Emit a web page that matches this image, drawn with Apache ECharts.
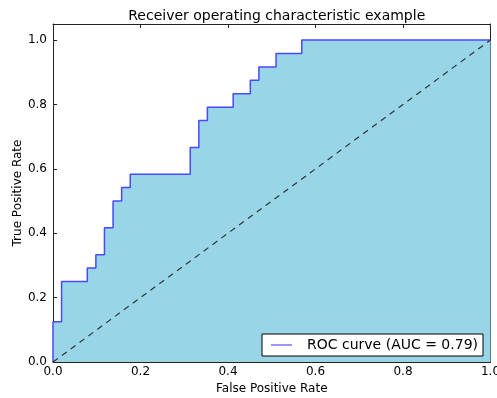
<!DOCTYPE html>
<html>
<head>
<meta charset="utf-8">
<script src="https://cdn.jsdelivr.net/npm/echarts@6/dist/echarts.min.js"></script>
<style>
  html, body { margin: 0; padding: 0; background: #fff; }
  #chart { width: 497px; height: 398px; }
</style>
</head>
<body>
<div id="chart"></div>
<script>
// ROC curve points (false positive rate, true positive rate)
var fpr = [0.0, 0.0, 0.0196, 0.0196, 0.0784, 0.0784, 0.0980, 0.0980, 0.1176, 0.1176,
           0.1373, 0.1373, 0.1569, 0.1569, 0.1765, 0.1765, 0.3137, 0.3137, 0.3333, 0.3333,
           0.3529, 0.3529, 0.4118, 0.4118, 0.4510, 0.4510, 0.4706, 0.4706, 0.5098, 0.5098,
           0.5686, 0.5686, 1.0];
var tpr = [0.0, 0.125, 0.125, 0.25, 0.25, 0.2917, 0.2917, 0.3333, 0.3333, 0.4167,
           0.4167, 0.5, 0.5, 0.5417, 0.5417, 0.5833, 0.5833, 0.6667, 0.6667, 0.75,
           0.75, 0.7917, 0.7917, 0.8333, 0.8333, 0.875, 0.875, 0.9167, 0.9167, 0.9583,
           0.9583, 1.0, 1.0];
// chance diagonal
var chanceX = [0.0, 1.0];
var chanceY = [0.0, 1.0];
var aucValue = 0.79;
var titleText = 'Receiver operating characteristic example';
var xLabel = 'False Positive Rate';
var yLabel = 'True Positive Rate';

var rocData = fpr.map(function (x, i) { return [x, tpr[i]]; });
var chanceData = chanceX.map(function (x, i) { return [x, chanceY[i]]; });
var rocName = 'ROC curve (AUC = ' + aucValue.toFixed(2) + ')';

var FONT = 'DejaVu Sans';
var frameColor = '#222';
var gridLeft = 53, gridRight = 6.5;

function fmt(v) {
  return Math.abs(v * 5 - Math.round(v * 5)) < 1e-6 ? v.toFixed(1) : '';
}

var baseAxisLine = { show: true, onZero: false, lineStyle: { color: frameColor, width: 1 } };
var innerTick = { show: true, inside: true, length: 4, lineStyle: { color: frameColor, width: 1 } };

var chart = echarts.init(document.getElementById('chart'), null, { renderer: 'canvas' });
var plotCenter = gridLeft + (497 - gridLeft - gridRight) / 2;
chart.setOption({
  animation: false,
  backgroundColor: '#fff',
  title: {
    text: titleText,
    left: plotCenter,
    textAlign: 'center',
    top: 4,
    textStyle: { fontFamily: FONT, fontSize: 14, fontWeight: 'normal', color: '#000' }
  },
  grid: { left: gridLeft, right: gridRight, top: 24, bottom: 36, containLabel: false, outerBoundsMode: 'none' },
  legend: {
    data: [{ name: rocName, icon: 'rect' }],
    right: 14,
    bottom: 42,
    orient: 'vertical',
    backgroundColor: '#fff',
    borderColor: '#000',
    borderWidth: 1,
    borderRadius: 0,
    padding: [4, 5, 4, 9],
    itemWidth: 21,
    itemHeight: 1.5,
    itemStyle: { color: '#7676ff' },
    textStyle: { fontFamily: FONT, fontSize: 14, color: '#000', padding: [0, 0, 0, 10] }
  },
  xAxis: [{
    type: 'value', position: 'bottom', min: 0, max: 1, interval: 0.2,
    axisLine: baseAxisLine, axisTick: innerTick, splitLine: { show: false },
    axisLabel: { formatter: fmt, fontFamily: FONT, fontSize: 12, color: '#000', margin: 4 },
    name: xLabel, nameLocation: 'middle', nameGap: 21, nameMoveOverlap: false,
    nameTextStyle: { fontFamily: FONT, fontSize: 12, color: '#000' }
  }, {
    type: 'value', position: 'top', min: 0, max: 1, interval: 0.2,
    axisLine: baseAxisLine, axisTick: innerTick, splitLine: { show: false },
    axisLabel: { show: false }
  }],
  yAxis: [{
    type: 'value', position: 'left', min: 0, max: 1.05, interval: 0.2,
    axisLine: baseAxisLine, axisTick: innerTick, splitLine: { show: false },
    axisLabel: { formatter: fmt, showMaxLabel: false, fontFamily: FONT, fontSize: 12, color: '#000', margin: 6 },
    name: yLabel, nameLocation: 'middle', nameGap: 29, nameRotate: 90, nameMoveOverlap: false,
    nameTextStyle: { fontFamily: FONT, fontSize: 12, color: '#000' }
  }, {
    type: 'value', position: 'right', min: 0, max: 1.05, interval: 0.2,
    axisLine: baseAxisLine, axisTick: innerTick, splitLine: { show: false },
    axisLabel: { show: false }
  }],
  series: [{
    name: rocName,
    type: 'line',
    data: rocData,
    showSymbol: false,
    symbol: 'none',
    lineStyle: { color: '#4848ff', width: 1.5 },
    itemStyle: { color: '#7676ff' },
    areaStyle: { color: '#98d6e7', opacity: 1, origin: 'start' },
    z: 2
  }, {
    name: 'chance',
    type: 'line',
    data: chanceData,
    showSymbol: false,
    symbol: 'none',
    lineStyle: { color: '#333', width: 1.2, type: [6, 5] },
    z: 3
  }]
});
</script>
</body>
</html>
